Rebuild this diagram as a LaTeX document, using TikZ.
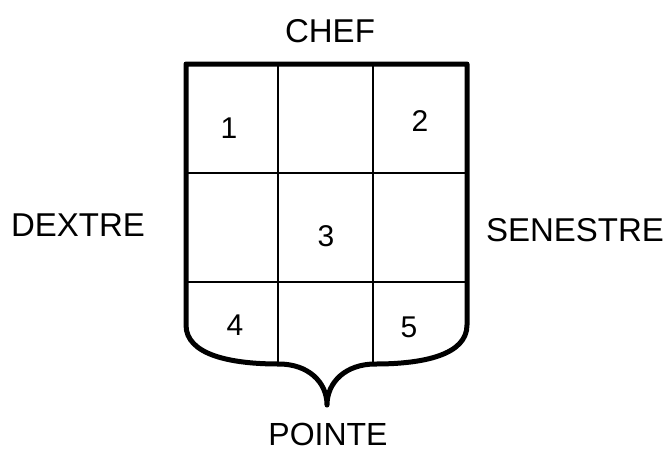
\documentclass[tikz,border=0pt]{standalone}
\usepackage{fontspec}
\setmainfont{Liberation Sans}
\begin{document}
\begin{tikzpicture}[x=1pt,y=-1pt,
  lbl/.style={font=\fontsize{33}{36}\selectfont, inner sep=0pt},
  num/.style={font=\fontsize{30}{32}\selectfont, inner sep=0pt},
  outer/.style={line width=5pt, line join=round, line cap=round},
  inner/.style={line width=2.2pt}]
\useasboundingbox (0,0) rectangle (671,451);
% inner grid
\draw[inner] (278,64) -- (278,365);
\draw[inner] (373,64) -- (373,365);
\draw[inner] (186,173) -- (467,173);
\draw[inner] (186,282) -- (467,282);
% outline
\draw[outer] (186,64) -- (467,64) -- (467,325)
  .. controls (467,355) and (423,364) .. (375,364)
  .. controls (346,364) and (327,382) .. (327,405)
  .. controls (327,382) and (308,364) .. (279,364)
  .. controls (231,364) and (186,355) .. (186,325) -- cycle;
% labels
\node[lbl] (chef) at (330,31) {CHEF};
\node[lbl] (dextre) at (78,225) {DEXTRE};
\node[lbl] (senestre) at (575,230) {SENESTRE};
\node[lbl, font=\fontsize{32}{34}\selectfont] (pointe) at (328,434) {POINTE};
\node[num] (n1) at (229,128) {1};
\node[num] (n2) at (420,121) {2};
\node[num] (n3) at (326,236) {3};
\node[num] (n4) at (235,325) {4};
\node[num] (n5) at (409,327) {5};
\end{tikzpicture}
\end{document}
